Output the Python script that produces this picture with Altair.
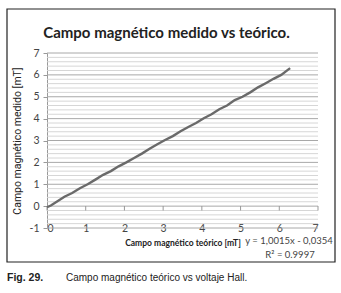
import altair as alt
import pandas as pd

# ---- data ----
x_teorico = [0.00, 0.10, 0.25, 0.45, 0.65, 0.85, 1.05, 1.25, 1.45, 1.65, 1.85,
             2.05, 2.25, 2.45, 2.65, 2.85, 3.05, 3.25, 3.45, 3.65, 3.85, 4.05,
             4.25, 4.45, 4.65, 4.85, 5.05, 5.25, 5.45, 5.65, 5.85, 6.05, 6.28]
y_medido = [-0.05, 0.03, 0.20, 0.43, 0.60, 0.82, 1.00, 1.21, 1.43, 1.60, 1.82,
            2.00, 2.20, 2.40, 2.62, 2.83, 3.02, 3.20, 3.42, 3.62, 3.80, 4.02,
            4.20, 4.43, 4.60, 4.85, 5.00, 5.20, 5.43, 5.62, 5.82, 6.00, 6.31]
x_ticks = [0, 1, 2, 3, 4, 5, 6, 7]
y_ticks = [-1, 0, 1, 2, 3, 4, 5, 6, 7]
minor_grid = [-0.8, -0.6, -0.4, -0.2, 0.2, 0.4, 0.6, 0.8, 1.2, 1.4, 1.6, 1.8,
              2.2, 2.4, 2.6, 2.8, 3.2, 3.4, 3.6, 3.8, 4.2, 4.4, 4.6, 4.8,
              5.2, 5.4, 5.6, 5.8, 6.2, 6.4, 6.6, 6.8]
title_text = "Campo magnético medido vs teórico."
x_title = "Campo magnético teórico [mT]"
y_title = "Campo magnético medido [mT]"
eq_lines = ["y = 1,0015x - 0,0354", "R² = 0.9997"]
caption_bold = "Fig. 29."
caption_text = "Campo magnético teórico vs voltaje Hall."

FONT = "Lato"
W, H = 271, 175

xs = alt.Scale(domain=[0, 7], nice=False, zero=False)
ys = alt.Scale(domain=[-1, 7], nice=False, zero=False)

df = pd.DataFrame({"x": x_teorico, "y": y_medido})

x_axis = alt.Axis(values=x_ticks, grid=False, ticks=False, domain=False,
                  labelBaseline="middle", labelPadding=0, labelFontSize=10.5,
                  labelColor="#444", labelFont=FONT, title=x_title,
                  titleFont=FONT, titleFontSize=8.5, titleFontWeight="bold",
                  titleColor="#222", titleBaseline="alphabetic", titleY=17)
y_axis = alt.Axis(values=y_ticks, grid=False, ticks=True, tickSize=4,
                  tickColor="#999", domain=True, domainColor="#999",
                  labelPadding=4, labelFontSize=10.5, labelColor="#444",
                  labelFont=FONT, labelExpr="replace(datum.label, '\u2212', '-')",
                  title=y_title, titleFont="Roboto",
                  titleFontSize=10.5, titleFontWeight="normal", titleColor="#222",
                  titleX=-30, titleY=H / 2, titleAngle=270,
                  titleBaseline="middle", titleAlign="center")

minor = alt.Chart(pd.DataFrame({"y": minor_grid})).mark_rule(
    color="#d6d6d6", strokeWidth=1).encode(
    y=alt.Y("y:Q", scale=ys, axis=y_axis), x=alt.value(0), x2=alt.value(W))
major = alt.Chart(pd.DataFrame({"y": y_ticks})).mark_rule(
    color="#a8a8a8", strokeWidth=1).encode(
    y=alt.Y("y:Q", scale=ys, axis=y_axis), x=alt.value(0), x2=alt.value(W))
xticks = alt.Chart(pd.DataFrame({"x": x_ticks})).mark_rule(
    color="#999", strokeWidth=1).encode(
    x=alt.X("x:Q", scale=xs, axis=x_axis), y=alt.value(153), y2=alt.value(157.5))

line = alt.Chart(df).mark_line(color="#6a6a6a", strokeWidth=2.4).encode(
    x=alt.X("x:Q", scale=xs, axis=x_axis),
    y=alt.Y("y:Q", scale=ys, axis=y_axis))

eq1 = alt.Chart(pd.DataFrame({"t": [eq_lines[0]]})).mark_text(
    font=FONT, fontSize=9.5, color="#444", align="center", baseline="alphabetic").encode(
    text="t:N", x=alt.value(242), y=alt.value(191))
eq2 = alt.Chart(pd.DataFrame({"t": [eq_lines[1]]})).mark_text(
    font=FONT, fontSize=9.5, color="#444", align="center", baseline="alphabetic").encode(
    text="t:N", x=alt.value(243), y=alt.value(205))

cap1 = alt.Chart(pd.DataFrame({"t": [caption_bold]})).mark_text(
    font="Liberation Sans", fontSize=10.5, fontWeight="bold",
    color="#222", align="left", baseline="alphabetic").encode(
    text="t:N", x=alt.value(-40), y=alt.value(228))
cap2 = alt.Chart(pd.DataFrame({"t": [caption_text]})).mark_text(
    font="Liberation Sans", fontSize=10, color="#222",
    align="left", baseline="alphabetic").encode(
    text="t:N", x=alt.value(19), y=alt.value(228))

border = alt.Chart(pd.DataFrame({"a": [0]})).mark_rect(
    fill=None, stroke="#222", strokeWidth=1.2).encode(
    x=alt.value(-40), x2=alt.value(288), y=alt.value(-44), y2=alt.value(209))

chart = alt.layer(minor, major, xticks, line, eq1, eq2, cap1, cap2, border).properties(
    width=W, height=H,
    title=alt.TitleParams(title_text, font=FONT, fontSize=15, fontWeight="bold",
                          color="#222", anchor="middle", dx=-16, offset=0,
                          baseline="alphabetic", dy=45, frame="group"),
    padding={"left": 47, "top": 53, "right": 23, "bottom": 65},
    autosize=alt.AutoSizeParams(type="none"),
    background="white",
).configure(font=FONT).configure_view(stroke=None)

chart.save("out.html", embed_options={"renderer": "svg", "actions": False})
